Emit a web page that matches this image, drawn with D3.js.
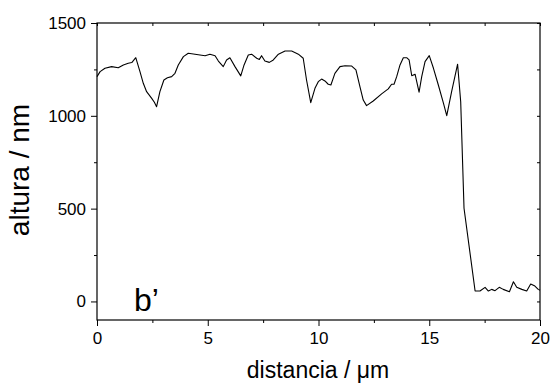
<!DOCTYPE html>
<html>
<head>
<meta charset="utf-8">
<script src="https://cdn.jsdelivr.net/npm/d3@7"></script>
<style>
  html, body { margin: 0; padding: 0; background: #fff; }
  svg { display: block; font-family: "Liberation Sans", Arial, sans-serif; }
</style>
</head>
<body>
<svg id="chart" width="550" height="384"></svg>
<script>
// ---- data ----
const distance = [0, 0.14, 0.36, 0.66, 0.96, 1.19, 1.41, 1.57, 1.75, 1.94, 2.09, 2.24, 2.47, 2.59, 2.69,
  2.84, 3.02, 3.18, 3.37, 3.52, 3.67, 3.9, 4.12, 4.35, 4.65, 4.88, 5.1, 5.33, 5.48, 5.7,
  5.85, 6.0, 6.23, 6.49, 6.64, 6.83, 6.98, 7.21, 7.33, 7.43, 7.58, 7.78, 7.96, 8.19, 8.49,
  8.79, 9.09, 9.31, 9.46, 9.65, 9.84, 9.99, 10.14, 10.29, 10.44, 10.56, 10.74, 10.97, 11.2, 11.5,
  11.69, 11.87, 12.02, 12.17, 12.47, 12.85, 13.15, 13.3, 13.41, 13.53, 13.68, 13.83, 13.98, 14.09, 14.21,
  14.36, 14.54, 14.66, 14.81, 15.0, 15.19, 15.41, 15.64, 15.79, 16.01, 16.28, 16.42, 16.57, 17.07, 17.29,
  17.52, 17.67, 17.82, 17.97, 18.16, 18.34, 18.62, 18.8, 18.95, 19.18, 19.4, 19.58, 19.77, 19.92, 20.0];
const height = [1211, 1238, 1256, 1265, 1259, 1274, 1283, 1287, 1313, 1238, 1175, 1130, 1094, 1073, 1049,
  1130, 1193, 1205, 1211, 1229, 1274, 1319, 1337, 1333, 1328, 1324, 1332, 1324, 1295, 1265,
  1301, 1313, 1265, 1215, 1274, 1328, 1332, 1310, 1304, 1324, 1295, 1288, 1301, 1332, 1349,
  1349, 1332, 1310, 1193, 1071, 1148, 1184, 1198, 1188, 1170, 1166, 1229, 1265, 1270, 1268,
  1247, 1157, 1085, 1055, 1080, 1118, 1145, 1170, 1170, 1211, 1274, 1313, 1313, 1301, 1216,
  1224, 1127, 1211, 1292, 1324, 1256, 1166, 1068, 1001, 1130, 1278, 1076, 502, 56, 56,
  76, 56, 65, 58, 76, 65, 52, 106, 76, 65, 56, 94, 83, 65, 60];
const xTicks = [0, 5, 10, 15, 20];
const yTicks = [0, 500, 1000, 1500];
const xMinor = [2.5, 7.5, 12.5, 17.5];
const yMinor = [250, 750, 1250];
const xTitle = "distancia / \u03bcm";
const yTitle = "altura / nm";
const panelLabel = "b\u2019";

// ---- layout ----
const svg = d3.select("#chart");
const L = 97, R = 540, T = 23, B = 320;
const x = d3.scaleLinear().domain([0, 20]).range([L, R]);
const y = d3.scaleLinear().domain([-100, 1500]).range([B, T]);

function styleAxis(g) {
  g.select(".domain").remove();
  g.selectAll("line").attr("stroke", "#000").attr("stroke-width", 1);
  g.selectAll("text").attr("fill", "#000").attr("font-size", 17)
    .attr("font-family", "'Liberation Sans', Arial, sans-serif");
}

// bottom axis (major outward + minor outward)
svg.append("g").attr("transform", `translate(0,${B})`)
  .call(d3.axisBottom(x).tickValues(xTicks).tickSize(6).tickPadding(6).tickFormat(d3.format("d")))
  .call(styleAxis);
svg.append("g").attr("transform", `translate(0,${B})`)
  .call(d3.axisBottom(x).tickValues(xMinor).tickSize(3).tickFormat(""))
  .call(styleAxis);
// left axis
svg.append("g").attr("transform", `translate(${L},0)`)
  .call(d3.axisLeft(y).tickValues(yTicks).tickSize(6).tickPadding(5).tickFormat(d3.format("d")))
  .call(styleAxis);
svg.append("g").attr("transform", `translate(${L},0)`)
  .call(d3.axisLeft(y).tickValues(yMinor).tickSize(3).tickFormat(""))
  .call(styleAxis);
// top axis (inward)
svg.append("g").attr("transform", `translate(0,${T})`)
  .call(d3.axisBottom(x).tickValues(xTicks.concat(xMinor)).tickSize(3).tickFormat(""))
  .call(styleAxis);
// right axis (inward)
svg.append("g").attr("transform", `translate(${R},0)`)
  .call(d3.axisLeft(y).tickValues(yTicks.concat(yMinor)).tickSize(3).tickFormat(""))
  .call(styleAxis);

// frame
svg.append("rect").attr("x", L).attr("y", T).attr("width", R - L).attr("height", B - T)
  .attr("fill", "none").attr("stroke", "#000").attr("stroke-width", 1.2);

// line
const pts = distance.map((d, i) => [d, height[i]]);
svg.append("path").datum(pts)
  .attr("fill", "none").attr("stroke", "#000").attr("stroke-width", 1.1)
  .attr("stroke-linejoin", "round")
  .attr("d", d3.line().x(d => x(d[0])).y(d => y(d[1])));

// titles
svg.append("text").attr("x", 318).attr("y", 378).attr("text-anchor", "middle")
  .attr("font-size", 23).attr("fill", "#000").text(xTitle);
svg.append("text").attr("transform", `translate(29,170) rotate(-90)`)
  .attr("text-anchor", "middle").attr("font-size", 28).attr("fill", "#000").text(yTitle);
svg.append("text").attr("x", 134).attr("y", 311).attr("font-size", 32).attr("fill", "#000").text(panelLabel);
</script>
</body>
</html>
